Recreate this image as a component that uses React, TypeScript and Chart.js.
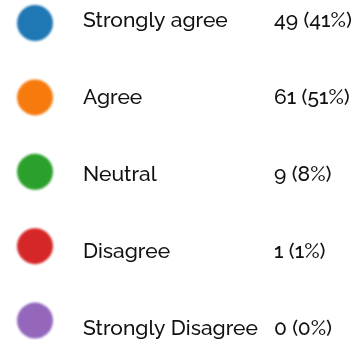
import React, { useEffect, useRef } from "react";
import { Chart, registerables } from "chart.js";
Chart.register(...registerables);

const categories = ["Strongly agree", "Agree", "Neutral", "Disagree", "Strongly Disagree"];
const counts = [49, 61, 9, 1, 0];
const percents = [41, 51, 8, 1, 0];
const colors = ["#1f77b4", "#f77a0e", "#2ca02c", "#d62728", "#9467bd"];

const FONT = "Raleway, Lato, 'Open Sans', sans-serif";
const CIRCLE_X = 35;
const NAME_X = 83;
const VALUE_X = 274;

const blurPlugin = {
  id: "softDots",
  beforeDatasetDraw(chart: any, args: any) {
    if (args.index === 0) {
      chart.ctx.save();
      chart.ctx.filter = "blur(0.8px)";
    }
  },
  afterDatasetDraw(chart: any, args: any) {
    if (args.index === 0) chart.ctx.restore();
  },
};

const labelPlugin = {
  id: "rowLabels",
  afterDatasetsDraw(chart: any) {
    const meta = chart.getDatasetMeta(1);
    const ctx = chart.ctx;
    const xs = chart.scales.x;
    ctx.save();
    ctx.fillStyle = "#111111";
    ctx.font = `500 21px ${FONT}`;
    ctx.textBaseline = "alphabetic";
    ctx.textAlign = "left";
    meta.data.forEach((el: any, i: number) => {
      ctx.fillText(categories[i], xs.getPixelForValue(NAME_X), el.y);
      ctx.fillText(`${counts[i]} (${percents[i]}%)`, xs.getPixelForValue(VALUE_X), el.y);
    });
    ctx.restore();
  },
};

export default function App() {
  const ref = useRef<HTMLCanvasElement>(null);
  useEffect(() => {
    document.body.style.margin = "0";
    const chart = new Chart(ref.current!, {
      type: "scatter",
      data: {
        datasets: [
          {
            data: categories.map((_, i) => ({ x: CIRCLE_X, y: i })),
            backgroundColor: colors,
            borderWidth: 0,
            pointRadius: 18,
            pointHoverRadius: 18,
            yAxisID: "y",
          },
          {
            data: categories.map((_, i) => ({ x: 0, y: i })),
            pointRadius: 0,
            pointHoverRadius: 0,
            yAxisID: "y2",
          },
        ],
      },
      options: {
        animation: false,
        responsive: false,
        maintainAspectRatio: false,
        layout: { padding: 0, autoPadding: false },
        plugins: { legend: { display: false }, tooltip: { enabled: false } },
        scales: {
          x: { type: "linear", min: 0, max: 356, display: false },
          y: { type: "linear", min: -0.3092, max: 4.262, reverse: true, display: false },
          y2: { type: "linear", min: -0.3506, max: 4.065, reverse: true, display: false },
        },
      },
      plugins: [blurPlugin, labelPlugin],
    });
    return () => chart.destroy();
  }, []);
  return (
    <div style={{ position: "absolute", left: 0, top: 0, width: 356, height: 340 }}>
      <canvas ref={ref} width={356} height={340} />
    </div>
  );
}
